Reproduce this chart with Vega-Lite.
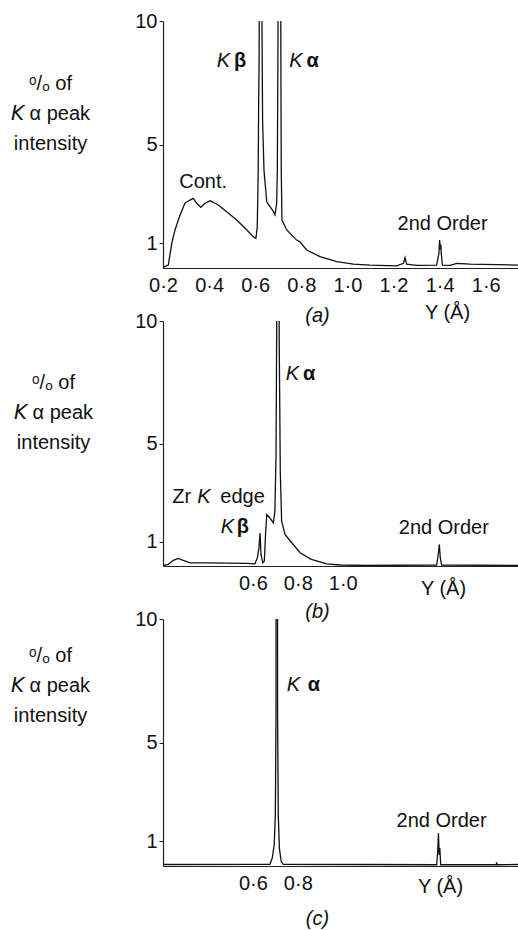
{
  "$schema": "https://vega.github.io/schema/vega-lite/v6.json",
  "background": "white",
  "padding": {"left": 10, "top": 11, "right": 0, "bottom": 0},
  "bounds": "flush",
  "spacing": 53,
  "config": {
    "view": {"stroke": null},
    "font": "Liberation Sans",
    "axis": {
      "grid": false,
      "labelFont": "Liberation Sans",
      "labelFontSize": 20,
      "labelColor": "#111",
      "titleFont": "Liberation Sans, DejaVu Sans",
      "titleFontSize": 20,
      "titleFontWeight": "normal",
      "titleColor": "#111",
      "domainColor": "#222",
      "domainWidth": 1.2,
      "tickColor": "#222"
    },
    "axisX": {
      "ticks": false,
      "tickSize": 0,
      "labelPadding": 7,
      "labelFlush": false,
      "labelOverlap": false,
      "titleAngle": 0,
      "titleAlign": "center",
      "titleBaseline": "middle"
    },
    "axisY": {
      "tickSize": 4,
      "labelPadding": 2,
      "titleAngle": 0,
      "titleAlign": "center",
      "titleBaseline": "middle",
      "titleLineHeight": 30
    },
    "title": {
      "font": "Liberation Sans",
      "fontSize": 20,
      "fontWeight": "normal",
      "fontStyle": "italic",
      "color": "#111",
      "orient": "bottom",
      "anchor": "middle"
    },
    "text": {"font": "Liberation Sans", "fontSize": 20, "color": "#111", "align": "center", "baseline": "alphabetic"}
  },
  "datasets": {
    "spectrumA": [
      {"wavelength": 0.200, "percent": 0.04},
      {"wavelength": 0.204, "percent": 0.04},
      {"wavelength": 0.223, "percent": 0.12},
      {"wavelength": 0.238, "percent": 1.00},
      {"wavelength": 0.252, "percent": 1.54},
      {"wavelength": 0.274, "percent": 2.15},
      {"wavelength": 0.295, "percent": 2.62},
      {"wavelength": 0.317, "percent": 2.75},
      {"wavelength": 0.331, "percent": 2.82},
      {"wavelength": 0.346, "percent": 2.62},
      {"wavelength": 0.364, "percent": 2.46},
      {"wavelength": 0.382, "percent": 2.62},
      {"wavelength": 0.404, "percent": 2.72},
      {"wavelength": 0.418, "percent": 2.66},
      {"wavelength": 0.440, "percent": 2.55},
      {"wavelength": 0.476, "percent": 2.28},
      {"wavelength": 0.520, "percent": 1.94},
      {"wavelength": 0.556, "percent": 1.61},
      {"wavelength": 0.592, "percent": 1.27},
      {"wavelength": 0.603, "percent": 1.20},
      {"wavelength": 0.609, "percent": 1.67},
      {"wavelength": 0.613, "percent": 3.97},
      {"wavelength": 0.615, "percent": 6.7},
      {"wavelength": 0.616, "percent": 7.6},
      {"wavelength": 0.617, "percent": 8.5},
      {"wavelength": 0.620, "percent": 20},
      {"wavelength": 0.629, "percent": 10.5},
      {"wavelength": 0.632, "percent": 6.0},
      {"wavelength": 0.638, "percent": 3.97},
      {"wavelength": 0.650, "percent": 2.68},
      {"wavelength": 0.679, "percent": 2.28},
      {"wavelength": 0.686, "percent": 2.15},
      {"wavelength": 0.693, "percent": 2.62},
      {"wavelength": 0.696, "percent": 3.97},
      {"wavelength": 0.699, "percent": 9.5},
      {"wavelength": 0.706, "percent": 100},
      {"wavelength": 0.711, "percent": 9.5},
      {"wavelength": 0.713, "percent": 3.97},
      {"wavelength": 0.716, "percent": 1.94},
      {"wavelength": 0.737, "percent": 1.54},
      {"wavelength": 0.765, "percent": 1.27},
      {"wavelength": 0.780, "percent": 1.13},
      {"wavelength": 0.794, "percent": 1.06},
      {"wavelength": 0.823, "percent": 0.73},
      {"wavelength": 0.881, "percent": 0.46},
      {"wavelength": 0.954, "percent": 0.26},
      {"wavelength": 1.026, "percent": 0.16},
      {"wavelength": 1.098, "percent": 0.12},
      {"wavelength": 1.214, "percent": 0.09},
      {"wavelength": 1.243, "percent": 0.19},
      {"wavelength": 1.250, "percent": 0.42},
      {"wavelength": 1.257, "percent": 0.16},
      {"wavelength": 1.301, "percent": 0.11},
      {"wavelength": 1.387, "percent": 0.12},
      {"wavelength": 1.397, "percent": 0.60},
      {"wavelength": 1.400, "percent": 1.13},
      {"wavelength": 1.403, "percent": 0.75},
      {"wavelength": 1.405, "percent": 0.95},
      {"wavelength": 1.408, "percent": 0.50},
      {"wavelength": 1.412, "percent": 0.12},
      {"wavelength": 1.445, "percent": 0.11},
      {"wavelength": 1.474, "percent": 0.19},
      {"wavelength": 1.532, "percent": 0.16},
      {"wavelength": 1.740, "percent": 0.12}
    ],
    "spectrumB": [
      {"wavelength": 0.200, "percent": 0.02},
      {"wavelength": 0.224, "percent": 0.07},
      {"wavelength": 0.246, "percent": 0.23},
      {"wavelength": 0.268, "percent": 0.31},
      {"wavelength": 0.290, "percent": 0.23},
      {"wavelength": 0.320, "percent": 0.13},
      {"wavelength": 0.409, "percent": 0.13},
      {"wavelength": 0.483, "percent": 0.12},
      {"wavelength": 0.572, "percent": 0.11},
      {"wavelength": 0.609, "percent": 0.09},
      {"wavelength": 0.620, "percent": 0.34},
      {"wavelength": 0.627, "percent": 0.74},
      {"wavelength": 0.632, "percent": 1.35},
      {"wavelength": 0.636, "percent": 0.48},
      {"wavelength": 0.644, "percent": 0.13},
      {"wavelength": 0.651, "percent": 0.20},
      {"wavelength": 0.657, "percent": 1.42},
      {"wavelength": 0.662, "percent": 2.10},
      {"wavelength": 0.676, "percent": 1.96},
      {"wavelength": 0.691, "percent": 1.76},
      {"wavelength": 0.698, "percent": 2.24},
      {"wavelength": 0.703, "percent": 4.5},
      {"wavelength": 0.706, "percent": 9.5},
      {"wavelength": 0.711, "percent": 100},
      {"wavelength": 0.717, "percent": 9.5},
      {"wavelength": 0.722, "percent": 3.86},
      {"wavelength": 0.728, "percent": 1.83},
      {"wavelength": 0.743, "percent": 1.29},
      {"wavelength": 0.773, "percent": 0.95},
      {"wavelength": 0.810, "percent": 0.54},
      {"wavelength": 0.860, "percent": 0.27},
      {"wavelength": 0.929, "percent": 0.09},
      {"wavelength": 0.988, "percent": 0.04},
      {"wavelength": 1.107, "percent": 0.02},
      {"wavelength": 1.418, "percent": 0.04},
      {"wavelength": 1.425, "percent": 0.48},
      {"wavelength": 1.430, "percent": 0.88},
      {"wavelength": 1.434, "percent": 0.34},
      {"wavelength": 1.440, "percent": 0.04},
      {"wavelength": 1.780, "percent": 0.02}
    ],
    "spectrumC": [
      {"wavelength": 0.200, "percent": 0.06},
      {"wavelength": 0.676, "percent": 0.07},
      {"wavelength": 0.686, "percent": 0.31},
      {"wavelength": 0.695, "percent": 0.86},
      {"wavelength": 0.700, "percent": 2.08},
      {"wavelength": 0.703, "percent": 6.16},
      {"wavelength": 0.706, "percent": 100},
      {"wavelength": 0.710, "percent": 6.16},
      {"wavelength": 0.713, "percent": 2.08},
      {"wavelength": 0.718, "percent": 0.72},
      {"wavelength": 0.726, "percent": 0.18},
      {"wavelength": 0.735, "percent": 0.07},
      {"wavelength": 1.418, "percent": 0.05},
      {"wavelength": 1.423, "percent": 0.65},
      {"wavelength": 1.426, "percent": 1.33},
      {"wavelength": 1.429, "percent": 0.45},
      {"wavelength": 1.432, "percent": 0.73},
      {"wavelength": 1.436, "percent": 0.05},
      {"wavelength": 1.683, "percent": 0.05},
      {"wavelength": 1.685, "percent": 0.15},
      {"wavelength": 1.687, "percent": 0.05},
      {"wavelength": 1.780, "percent": 0.06}
    ],
    "labels": [
      {"panel": "a", "role": "word", "wavelength": 0.374, "percent": 3.24, "text": "Cont."},
      {"panel": "a", "role": "word", "wavelength": 1.413, "percent": 1.54, "text": "2nd Order"},
      {"panel": "a", "role": "shell", "wavelength": 0.462, "percent": 8.15, "text": "K"},
      {"panel": "a", "role": "line", "wavelength": 0.534, "percent": 8.15, "text": "β"},
      {"panel": "a", "role": "shell", "wavelength": 0.777, "percent": 8.15, "text": "K"},
      {"panel": "a", "role": "line", "wavelength": 0.849, "percent": 8.15, "text": "α"},
      {"panel": "b", "role": "word", "wavelength": 0.283, "percent": 2.56, "text": "Zr"},
      {"panel": "b", "role": "shell", "wavelength": 0.382, "percent": 2.56, "text": "K"},
      {"panel": "b", "role": "word", "wavelength": 0.554, "percent": 2.56, "text": "edge"},
      {"panel": "b", "role": "shell", "wavelength": 0.487, "percent": 1.35, "text": "K"},
      {"panel": "b", "role": "line", "wavelength": 0.555, "percent": 1.35, "text": "β"},
      {"panel": "b", "role": "shell", "wavelength": 0.776, "percent": 7.60, "text": "K"},
      {"panel": "b", "role": "line", "wavelength": 0.850, "percent": 7.60, "text": "α"},
      {"panel": "b", "role": "word", "wavelength": 1.450, "percent": 1.30, "text": "2nd Order"},
      {"panel": "c", "role": "shell", "wavelength": 0.780, "percent": 7.10, "text": "K"},
      {"panel": "c", "role": "line", "wavelength": 0.872, "percent": 7.10, "text": "α"},
      {"panel": "c", "role": "word", "wavelength": 1.440, "percent": 1.59, "text": "2nd Order"}
    ]
  },
  "vconcat": [
    {
      "width": 355,
      "height": 247,
      "title": {"text": "(a)", "dx": -23, "dy": -20},
      "layer": [
        {
          "data": {"name": "spectrumA"},
          "mark": {"type": "line", "clip": true, "color": "#111", "strokeWidth": 1.3},
          "encoding": {
            "x": {
              "field": "wavelength", "type": "quantitative",
              "scale": {"domain": [0.2, 1.74], "nice": false, "zero": false},
              "axis": {"values": [0.2, 0.4, 0.6, 0.8, 1.0, 1.2, 1.4, 1.6], "format": ".1f", "labelExpr": "replace(datum.label, '.', '·')", "title": "Y (Å)", "titleX": 284, "titleY": 44}
            },
            "y": {
              "field": "percent", "type": "quantitative",
              "scale": {"domain": [0, 10], "nice": false},
              "axis": {"values": [1, 5, 10], "title": ["ᵒ/ₒ of", "𝘒 α peak", "intensity"], "titleX": -113, "titleY": 62}
            }
          }
        },
        {
          "data": {"name": "labels"},
          "transform": [{"filter": "datum.panel === 'a' && datum.role === 'word'"}],
          "mark": {"type": "text"},
          "encoding": {"x": {"field": "wavelength", "type": "quantitative"}, "y": {"field": "percent", "type": "quantitative"}, "text": {"field": "text"}}
        },
        {
          "data": {"name": "labels"},
          "transform": [{"filter": "datum.panel === 'a' && datum.role === 'shell'"}],
          "mark": {"type": "text", "fontStyle": "italic"},
          "encoding": {"x": {"field": "wavelength", "type": "quantitative"}, "y": {"field": "percent", "type": "quantitative"}, "text": {"field": "text"}}
        },
        {
          "data": {"name": "labels"},
          "transform": [{"filter": "datum.panel === 'a' && datum.role === 'line'"}],
          "mark": {"type": "text", "fontWeight": "bold"},
          "encoding": {"x": {"field": "wavelength", "type": "quantitative"}, "y": {"field": "percent", "type": "quantitative"}, "text": {"field": "text"}}
        }
      ]
    },
    {
      "width": 355,
      "height": 245,
      "title": {"text": "(b)", "dx": -23, "dy": 0},
      "layer": [
        {
          "data": {"name": "spectrumB"},
          "mark": {"type": "line", "clip": true, "color": "#111", "strokeWidth": 1.3},
          "encoding": {
            "x": {
              "field": "wavelength", "type": "quantitative",
              "scale": {"domain": [0.2, 1.78], "nice": false, "zero": false},
              "axis": {"values": [0.6, 0.8, 1.0], "format": ".1f", "labelExpr": "replace(datum.label, '.', '·')", "title": "Y (Å)", "titleX": 280, "titleY": 22}
            },
            "y": {
              "field": "percent", "type": "quantitative",
              "scale": {"domain": [0, 10], "nice": false},
              "axis": {"values": [1, 5, 10], "title": ["ᵒ/ₒ of", "𝘒 α peak", "intensity"], "titleX": -110, "titleY": 61}
            }
          }
        },
        {
          "data": {"name": "labels"},
          "transform": [{"filter": "datum.panel === 'b' && datum.role === 'word'"}],
          "mark": {"type": "text"},
          "encoding": {"x": {"field": "wavelength", "type": "quantitative"}, "y": {"field": "percent", "type": "quantitative"}, "text": {"field": "text"}}
        },
        {
          "data": {"name": "labels"},
          "transform": [{"filter": "datum.panel === 'b' && datum.role === 'shell'"}],
          "mark": {"type": "text", "fontStyle": "italic"},
          "encoding": {"x": {"field": "wavelength", "type": "quantitative"}, "y": {"field": "percent", "type": "quantitative"}, "text": {"field": "text"}}
        },
        {
          "data": {"name": "labels"},
          "transform": [{"filter": "datum.panel === 'b' && datum.role === 'line'"}],
          "mark": {"type": "text", "fontWeight": "bold"},
          "encoding": {"x": {"field": "wavelength", "type": "quantitative"}, "y": {"field": "percent", "type": "quantitative"}, "text": {"field": "text"}}
        }
      ]
    },
    {
      "width": 355,
      "height": 247,
      "title": {"text": "(c)", "dx": -23, "dy": 9},
      "layer": [
        {
          "data": {"name": "spectrumC"},
          "mark": {"type": "line", "clip": true, "color": "#111", "strokeWidth": 1.3},
          "encoding": {
            "x": {
              "field": "wavelength", "type": "quantitative",
              "scale": {"domain": [0.2, 1.78], "nice": false, "zero": false},
              "axis": {"values": [0.6, 0.8], "format": ".1f", "labelExpr": "replace(datum.label, '.', '·')", "title": "Y (Å)", "titleX": 277, "titleY": 20}
            },
            "y": {
              "field": "percent", "type": "quantitative",
              "scale": {"domain": [0, 10], "nice": false},
              "axis": {"values": [1, 5, 10], "title": ["ᵒ/ₒ of", "𝘒 α peak", "intensity"], "titleX": -113, "titleY": 36}
            }
          }
        },
        {
          "data": {"name": "labels"},
          "transform": [{"filter": "datum.panel === 'c' && datum.role === 'word'"}],
          "mark": {"type": "text"},
          "encoding": {"x": {"field": "wavelength", "type": "quantitative"}, "y": {"field": "percent", "type": "quantitative"}, "text": {"field": "text"}}
        },
        {
          "data": {"name": "labels"},
          "transform": [{"filter": "datum.panel === 'c' && datum.role === 'shell'"}],
          "mark": {"type": "text", "fontStyle": "italic"},
          "encoding": {"x": {"field": "wavelength", "type": "quantitative"}, "y": {"field": "percent", "type": "quantitative"}, "text": {"field": "text"}}
        },
        {
          "data": {"name": "labels"},
          "transform": [{"filter": "datum.panel === 'c' && datum.role === 'line'"}],
          "mark": {"type": "text", "fontWeight": "bold"},
          "encoding": {"x": {"field": "wavelength", "type": "quantitative"}, "y": {"field": "percent", "type": "quantitative"}, "text": {"field": "text"}}
        }
      ]
    }
  ]
}
